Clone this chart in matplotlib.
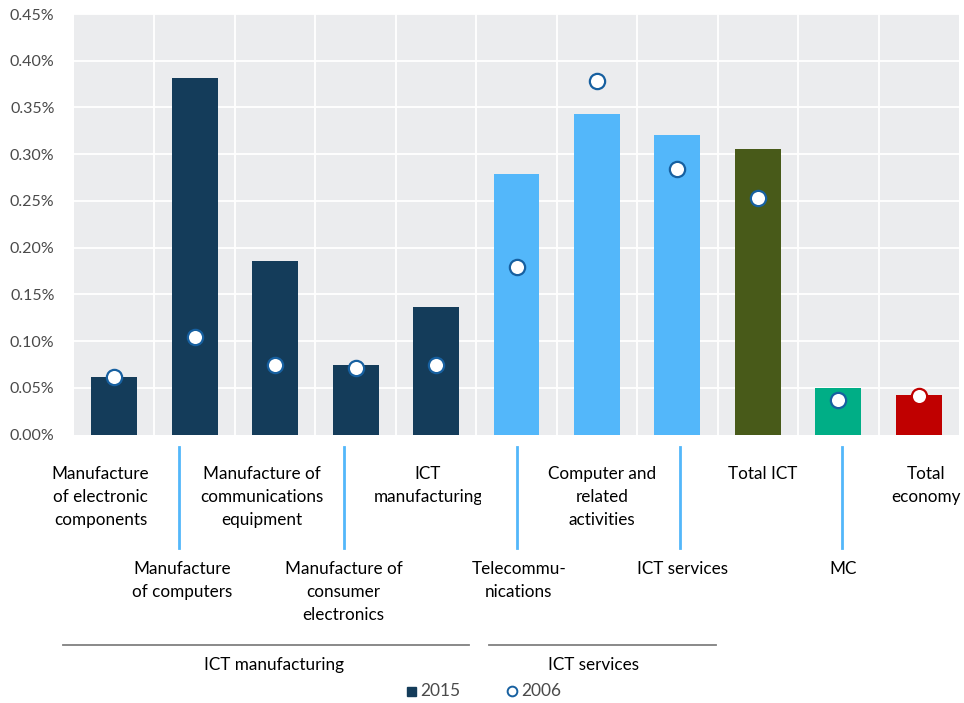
import matplotlib
matplotlib.use("Agg")
import matplotlib.pyplot as plt
import matplotlib.transforms as mtransforms
from matplotlib.lines import Line2D
from matplotlib.patches import Rectangle
import numpy as np

plt.rcParams['font.family'] = ['Lato', 'DejaVu Sans']

categories = [
    "Manufacture\nof electronic\ncomponents",
    "Manufacture\nof computers",
    "Manufacture of\ncommunications\nequipment",
    "Manufacture of\nconsumer\nelectronics",
    "ICT\nmanufacturing",
    "Telecommu-\nnications",
    "Computer and\nrelated\nactivities",
    "ICT services",
    "Total ICT",
    "MC",
    "Total\neconomy",
]
values_2015 = [0.061, 0.382, 0.186, 0.074, 0.136, 0.279, 0.343, 0.321, 0.305, 0.050, 0.042]
values_2006 = [0.061, 0.104, 0.074, 0.071, 0.074, 0.179, 0.378, 0.284, 0.253, 0.037, 0.041]
bar_colors = ["#143C5A"] * 5 + ["#53B7FA"] * 3 + ["#485A19", "#00AE86", "#C00000"]
marker_edges = ["#1760A0"] * 10 + ["#C00000"]
groups = ["ICT manufacturing", "ICT services"]
yticks = [0.0, 0.05, 0.10, 0.15, 0.20, 0.25, 0.30, 0.35, 0.40, 0.45]
series_names = ["2015", "2006"]

W, H = 964, 703
fig = plt.figure(figsize=(W / 100, H / 100), dpi=100)
ax = fig.add_axes([74 / W, 1 - 434.5 / H, 885 / W, 420.5 / H])
ax.set_facecolor("#EBECEE")

x = np.arange(len(categories))
ax.bar(x, values_2015, width=0.57, color=bar_colors, zorder=3)
for xi, v, ec in zip(x, values_2006, marker_edges):
    ax.plot(xi, v, marker='o', markersize=11, markerfacecolor='white',
            markeredgecolor=ec, markeredgewidth=1.6, zorder=4, linestyle='none')

ax.set_xlim(-0.5, len(categories) - 0.5)
ax.set_ylim(0, 0.45)
ax.set_yticks(yticks)
ax.set_yticklabels([f"{t:.2f}%" for t in yticks], fontsize=11.5, color="#4A4A4A")
ax.set_xticks([])
for b in np.arange(0.5, len(categories) - 0.5, 1.0):
    ax.axvline(b, color="white", lw=1.3, zorder=1)
for t in yticks[1:]:
    ax.axhline(t, color="white", lw=1.3, zorder=1)
ax.tick_params(axis='y', length=0, pad=14)
for s in ax.spines.values():
    s.set_visible(False)

tr = mtransforms.blended_transform_factory(ax.transData, fig.transFigure)
def fy(p):
    return 1 - p / H

FS = 12.3
# category labels
label_dx = [-0.17, -0.15, -0.17, -0.15, -0.1, 0.03, 0.06, 0.06, 0.06, 0.06, 0.09]
for i, lab in enumerate(categories):
    top = 466 if i % 2 == 0 else 561
    t = ax.text(i + label_dx[i], fy(top), lab, transform=tr, ha='center', va='top',
                fontsize=FS, color="black", linespacing=1.55, clip_on=False)
    if i == 4:
        t.set_clip_on(True)
        t.set_clip_box(mtransforms.Bbox.from_extents(0, 0, 481, H))

# leader lines
leader_dx = [-0.2, -0.15, 0.0, 0.03, 0.05]
for k, i in enumerate(range(1, len(categories), 2)):
    ax.add_line(Line2D([i + leader_dx[k]] * 2, [fy(447), fy(548)], transform=tr,
                       color="#53B7FA", lw=2, clip_on=False))

# group brackets
ax.add_line(Line2D([-0.64, 4.41], [fy(645)] * 2, transform=tr, color="#808080", lw=1.3, clip_on=False))
ax.add_line(Line2D([4.66, 7.48], [fy(645)] * 2, transform=tr, color="#808080", lw=1.3, clip_on=False))
ax.text(1.98, fy(665), groups[0], transform=tr, ha='center', va='center', fontsize=FS)
ax.text(5.96, fy(665), groups[1], transform=tr, ha='center', va='center', fontsize=FS)

# legend
fig.patches.append(Rectangle((407 / W, fy(696)), 9 / W, 9 / H, transform=fig.transFigure,
                             color="#143C5A"))
fig.text(420 / W, fy(691), series_names[0], ha='left', va='center', fontsize=12.5, color="#4A4A4A")
fig.add_artist(Line2D([512 / W], [fy(691)], marker='o', markersize=7, markerfacecolor='white',
                      markeredgecolor="#1760A0", markeredgewidth=1.4, transform=fig.transFigure))
fig.text(521 / W, fy(691), series_names[1], ha='left', va='center', fontsize=12.5, color="#4A4A4A")

fig.savefig("out.png", dpi=100)
